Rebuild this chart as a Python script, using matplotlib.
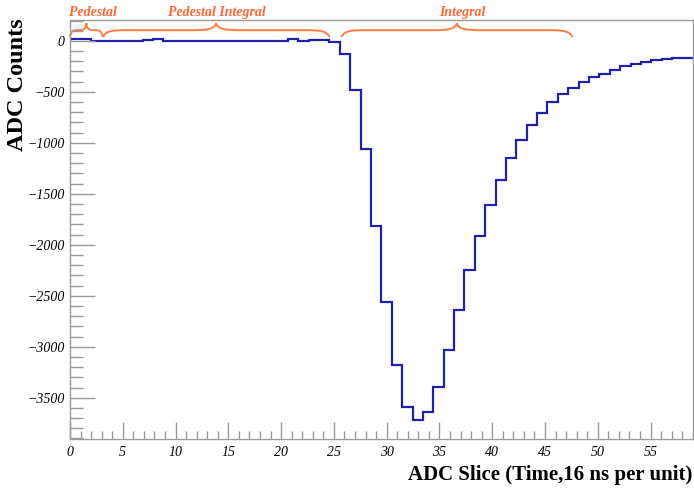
import numpy as np
import matplotlib
matplotlib.use("Agg")
import matplotlib.pyplot as plt
from matplotlib.path import Path
from matplotlib.patches import PathPatch
from matplotlib.ticker import MultipleLocator

# ---- data ----
adc_counts = [15, 15, 0, 0, 0, 0, 0, 5, 15, 0, 0, 0, 0, 0, 0, 0, 0, 0, 0, 0,
              0, 15, 0, 10, 7, -13, -127, -480, -1061, -1812, -2563, -3183,
              -3589, -3722, -3638, -3393, -3034, -2635, -2250, -1917, -1613,
              -1362, -1146, -970, -826, -708, -604, -522, -464, -405, -359,
              -320, -281, -242, -222, -203, -189, -176, -170, -163]
x_range = (0, 59)
brace_spans = [(0.0, 3.1), (3.1, 24.6), (25.7, 47.6)]
brace_labels = ["Pedestal", "Pedestal Integral", "Integral"]
label_x = [2.2, 13.9, 37.2]

edges = np.linspace(x_range[0], x_range[1], len(adc_counts) + 1)

fig = plt.figure(figsize=(6.94, 4.92), dpi=100)
ax = fig.add_axes([70 / 694, 53 / 492, (692.8 - 70) / 694, (439 - 20) / 492])

ax.stairs(adc_counts, edges, baseline=None, color="#2020aa", lw=1.6)

ax.set_xlim(*x_range)
ax.set_ylim(-3905, 205)

frame_col = "#9a9a9a"
for s in ax.spines.values():
    s.set_color(frame_col)
    s.set_linewidth(1.0)

ax.xaxis.set_major_locator(MultipleLocator(5))
ax.xaxis.set_minor_locator(MultipleLocator(1))
ax.yaxis.set_major_locator(MultipleLocator(500))
ax.yaxis.set_minor_locator(MultipleLocator(100))
ax.tick_params(axis="both", which="both", direction="in", colors=frame_col,
               labelcolor="black", top=False, right=False)
ax.tick_params(axis="x", which="major", length=12, width=1, pad=5)
ax.tick_params(axis="x", which="minor", length=6, width=1)
ax.tick_params(axis="y", which="major", length=18, width=1, pad=4)
ax.tick_params(axis="y", which="minor", length=9, width=1)

for lab in ax.get_xticklabels() + ax.get_yticklabels():
    lab.set_fontfamily("Liberation Serif")
    lab.set_fontstyle("italic")
    lab.set_fontsize(10)

# ---- braces ----
brace_col = "#ff7a45"
text_col = "#ff6633"
y_end, y_line, y_tip = 40, 105, 175

def brace_path(x0, x1):
    xm = 0.5 * (x0 + x1)
    r = min(2.2, 0.22 * (x1 - x0))
    verts = [
        (x0, y_end),
        (x0 + 0.15 * r, y_line - 10), (x0 + 0.35 * r, y_line), (x0 + r, y_line),
        (xm - r, y_line),
        (xm - 0.35 * r, y_line), (xm - 0.05 * r, y_line + 15), (xm, y_tip),
        (xm + 0.05 * r, y_line + 15), (xm + 0.35 * r, y_line), (xm + r, y_line),
        (x1 - r, y_line),
        (x1 - 0.35 * r, y_line), (x1 - 0.15 * r, y_line - 10), (x1, y_end),
    ]
    codes = [Path.MOVETO,
             Path.CURVE4, Path.CURVE4, Path.CURVE4,
             Path.LINETO,
             Path.CURVE4, Path.CURVE4, Path.CURVE4,
             Path.CURVE4, Path.CURVE4, Path.CURVE4,
             Path.LINETO,
             Path.CURVE4, Path.CURVE4, Path.CURVE4]
    return Path(verts, codes)

for (x0, x1) in brace_spans:
    ax.add_patch(PathPatch(brace_path(x0, x1), facecolor="none",
                           edgecolor=brace_col, lw=1.4, clip_on=False))

for txt, lx in zip(brace_labels, label_x):
    ax.text(lx, 275, txt, color=text_col, ha="center", va="center",
            family="Liberation Serif", style="italic", weight="bold",
            fontsize=10, clip_on=False)

# ---- axis titles ----
fig.text(18 / 694, 1 - 18 / 492, "ADC Counts", rotation=90, ha="center",
         va="top", family="Liberation Serif", weight="bold", fontsize=17.5)
fig.text(692 / 694, 1 - 475 / 492, "ADC Slice (Time,16 ns per unit)",
         ha="right", va="center", family="Liberation Serif", weight="bold",
         fontsize=15)

fig.savefig("out.png", dpi=100)
